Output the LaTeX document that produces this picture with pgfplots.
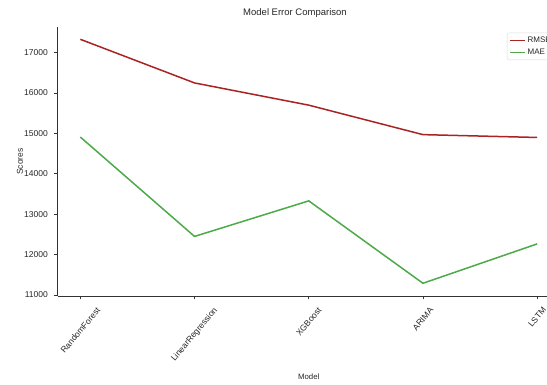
\documentclass[border=0pt]{standalone}
\usepackage{pgfplots}
\pgfplotsset{compat=1.18}
\usepackage{fontspec}
\setmainfont{Liberation Sans}
\usepackage{graphicx}
\definecolor{rmse}{RGB}{170,35,35}
\definecolor{mae}{RGB}{76,170,72}
\pgfplotstableread{
x rmse mae
0 17330 14910
1 16250 12450
2 15700 13330
3 14970 11290
4 14900 12265
}\errtable
\begin{document}
\begin{tikzpicture}[x=1pt,y=1pt]
\useasboundingbox (0,0) rectangle (547,385);
\clip (0,0) rectangle (547,385);
\begin{axis}[
  at={(57.5pt,89pt)}, anchor=south west,
  scale only axis, width=502.5pt, height=269pt,
  xmin=-0.2, xmax=4.2, ymin=10975, ymax=17635,
  axis x line*=bottom, axis y line*=left,
  axis line style={black!80, line width=0.8pt},
  tick style={black!80, line width=0.8pt},
  tick align=outside, major tick length=3.5pt,
  xtick={0,1,2,3,4},
  xticklabels={\rotatebox{50}{RandomForest},\rotatebox{50}{LinearRegression},\rotatebox{50}{XGBoost},\rotatebox{50}{ARIMA},\rotatebox{50}{LSTM}},
  xticklabel style={anchor=north, inner sep=0pt, yshift=-7pt, font=\fontsize{8.5}{10}\selectfont, text=black!85},
  ytick={11000,12000,13000,14000,15000,16000,17000},
  scaled y ticks=false,
  yticklabel style={/pgf/number format/1000 sep={}, /pgf/number format/assume math mode=true, anchor=east, inner sep=0pt, xshift=-6pt, font=\fontsize{8.5}{10}\selectfont, text=black!85},
  title={Model Error Comparison},
  title style={at={(rel axis cs:0.4726,1)}, anchor=base, yshift=5.3pt, font=\fontsize{9.5}{11}\selectfont, text=black!85},
  xlabel={Model},
  xlabel style={at={(rel axis cs:0.5,0)}, anchor=base, yshift=-84pt, font=\fontsize{7.8}{9}\selectfont, text=black!85},
  ylabel={Scores},
  ylabel style={at={(rel axis cs:0,0.5)}, anchor=base, yshift=34.5pt, font=\fontsize{8.5}{10}\selectfont, text=black!85},
  legend style={at={(rel axis cs:0.99,0.979)}, anchor=north east, font=\fontsize{8}{9}\selectfont, draw=black!15, rounded corners=2pt, inner sep=2pt, row sep=1pt, text=black!85},
  legend cell align=left,
  legend image code/.code={\draw[#1, line width=1.5pt] (0pt,0pt) -- (15pt,0pt);},
]
\addplot[rmse, line width=1.5pt] table[x=x, y=rmse] {\errtable};
\addlegendentry{RMSE}
\addplot[mae, line width=1.5pt] table[x=x, y=mae] {\errtable};
\addlegendentry{MAE}
\end{axis}
\end{tikzpicture}
\end{document}
